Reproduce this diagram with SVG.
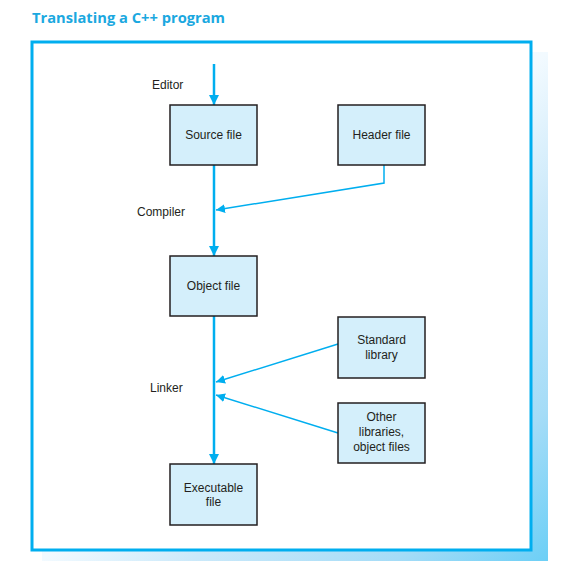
<svg xmlns="http://www.w3.org/2000/svg" width="569" height="580" viewBox="0 0 569 580">
<defs>
<linearGradient id="sh" x1="0" y1="0" x2="1" y2="1" gradientUnits="objectBoundingBox">
<stop offset="0" stop-color="#ffffff"/>
<stop offset="0.5" stop-color="#f2faff"/>
<stop offset="0.65" stop-color="#cbe9fa"/>
<stop offset="0.85" stop-color="#a5dcf7"/>
<stop offset="1" stop-color="#6ccff6"/>
</linearGradient>
<marker id="ah" viewBox="0 0 10 10" refX="10" refY="5" markerWidth="4" markerHeight="4" markerUnits="strokeWidth" orient="auto">
<path d="M0,0 L10,5 L0,10 Z" fill="#00aeef"/>
</marker>
<marker id="ahs" viewBox="0 0 10 10" refX="10" refY="5" markerWidth="6" markerHeight="6" markerUnits="strokeWidth" orient="auto">
<path d="M0,0 L10,5 L0,10 Z" fill="#00aeef"/>
</marker>
</defs>
<style>
.box{fill:#d4effb;stroke:#231f20;stroke-width:1.5}
.t{font-family:"Liberation Sans",Arial,sans-serif;font-size:12px;fill:#231f20}
.c{text-anchor:middle}
.main{stroke:#00aeef;stroke-width:2.5;fill:none}
.thin{stroke:#00aeef;stroke-width:1.5;fill:none}
</style>
<rect width="569" height="580" fill="#ffffff"/>
<text x="32" y="23" font-family="'Open Sans','DejaVu Sans',sans-serif" font-weight="bold" font-size="15" fill="#1ba8e0" textLength="193" lengthAdjust="spacingAndGlyphs">Translating a C++ program</text>
<g id="frame">
<path d="M531,52 H548 V561 H42 V550 H531 Z" fill="url(#sh)"/>
<rect x="32" y="42" width="499" height="508" fill="#ffffff" stroke="#00aeef" stroke-width="3"/>
</g>
<g id="connectors">
<line class="main" x1="214" y1="64" x2="214" y2="105" marker-end="url(#ah)"/>
<line class="main" x1="214" y1="165" x2="214" y2="256" marker-end="url(#ah)"/>
<line class="main" x1="214" y1="316" x2="214" y2="464" marker-end="url(#ah)"/>
<polyline class="thin" points="384,165 384,183 216,210" marker-end="url(#ahs)"/>
<line class="thin" x1="338" y1="344" x2="216" y2="382" marker-end="url(#ahs)"/>
<line class="thin" x1="338" y1="433" x2="216" y2="395" marker-end="url(#ahs)"/>
</g>
<g id="labels">
<text class="t" x="152" y="89">Editor</text>
<text class="t" x="137" y="216">Compiler</text>
<text class="t" x="150" y="392">Linker</text>
</g>
<g id="source-file">
<rect class="box" x="170" y="105" width="87" height="60"/>
<text class="t c" x="213.5" y="139">Source file</text>
</g>
<g id="header-file">
<rect class="box" x="338" y="105" width="87" height="60"/>
<text class="t c" x="381.5" y="139">Header file</text>
</g>
<g id="object-file">
<rect class="box" x="170" y="256" width="87" height="60"/>
<text class="t c" x="213.5" y="290">Object file</text>
</g>
<g id="standard-library">
<rect class="box" x="338" y="317" width="87" height="61"/>
<text class="t c" x="381.5" y="344">Standard</text>
<text class="t c" x="381.5" y="359">library</text>
</g>
<g id="other-libraries">
<rect class="box" x="338" y="403" width="87" height="60"/>
<text class="t c" x="381.5" y="421">Other</text>
<text class="t c" x="381.5" y="436">libraries,</text>
<text class="t c" x="381.5" y="451">object files</text>
</g>
<g id="executable-file">
<rect class="box" x="170" y="464" width="87" height="61"/>
<text class="t c" x="213.5" y="492">Executable</text>
<text class="t c" x="213.5" y="506">file</text>
</g>
</svg>
